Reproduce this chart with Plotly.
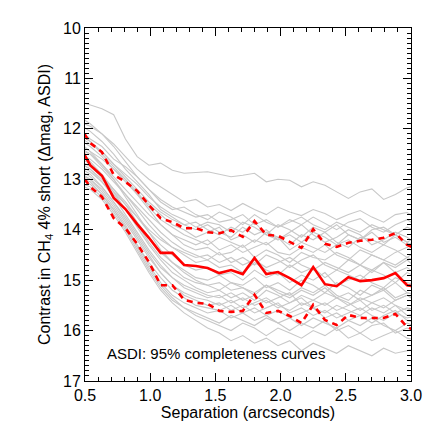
import plotly.graph_objects as go

sep = [0.45, 0.54, 0.63, 0.72, 0.81, 0.90, 0.99, 1.08, 1.17, 1.26,
       1.35, 1.44, 1.53, 1.62, 1.71, 1.80, 1.89, 1.98, 2.07, 2.16,
       2.25, 2.34, 2.43, 2.52, 2.61, 2.70, 2.79, 2.88, 2.97, 3.06]

median = [12.30, 12.72, 12.93, 13.37, 13.59, 13.89, 14.16, 14.46, 14.46, 14.70,
          14.72, 14.76, 14.86, 14.80, 14.88, 14.56, 14.88, 14.84, 14.96, 15.10,
          14.74, 15.08, 15.12, 14.94, 15.02, 15.00, 14.96, 14.86, 15.10, 15.14]
upper = [11.92, 12.28, 12.46, 12.91, 13.05, 13.23, 13.51, 13.77, 13.85, 13.97,
         13.97, 14.05, 14.07, 14.01, 14.14, 13.83, 14.10, 14.12, 14.24, 14.36,
         13.99, 14.28, 14.34, 14.26, 14.22, 14.20, 14.16, 14.07, 14.30, 14.40]
lower = [12.82, 13.15, 13.35, 13.77, 13.97, 14.28, 14.64, 15.10, 15.10, 15.39,
         15.45, 15.47, 15.61, 15.63, 15.61, 15.29, 15.65, 15.61, 15.71, 15.85,
         15.49, 15.79, 15.89, 15.69, 15.75, 15.75, 15.75, 15.67, 15.93, 16.03]

g01 = [11.45, 11.52, 11.60, 11.72, 12.20, 12.55, 12.72, 12.68, 12.82, 12.88, 12.86, 12.85, 12.90, 12.95, 12.92, 12.88, 13.05, 13.00, 13.02, 13.15, 13.05, 13.12, 13.25, 13.38, 13.25, 13.19, 13.40, 13.30, 13.17, 13.10]
g02 = [11.85, 11.95, 12.10, 12.30, 12.55, 12.80, 13.00, 13.15, 13.30, 13.45, 13.40, 13.55, 13.50, 13.62, 13.48, 13.60, 13.70, 13.55, 13.65, 13.72, 13.60, 13.68, 13.80, 13.70, 13.62, 13.75, 13.85, 13.70, 13.66, 13.80]
g03 = [12.00, 12.20, 12.35, 12.60, 12.75, 12.95, 13.20, 13.45, 13.60, 13.55, 13.70, 13.80, 13.65, 13.75, 13.90, 13.70, 13.85, 13.95, 13.80, 13.90, 13.75, 13.88, 14.00, 13.85, 13.78, 13.95, 14.05, 13.90, 13.80, 13.95]
g04 = [12.15, 12.30, 12.45, 12.70, 12.90, 13.10, 13.35, 13.55, 13.70, 13.80, 13.95, 13.85, 13.90, 14.05, 13.85, 13.95, 14.10, 13.90, 14.00, 14.15, 13.95, 14.05, 13.90, 14.10, 14.20, 14.00, 13.95, 14.10, 14.25, 14.10]
g05 = [11.90, 12.05, 12.25, 12.50, 12.80, 13.05, 13.30, 13.60, 13.75, 13.90, 13.85, 14.00, 14.10, 13.95, 14.05, 13.85, 14.10, 14.20, 14.05, 13.90, 14.10, 14.25, 14.15, 14.00, 14.10, 14.30, 14.20, 14.05, 14.15, 14.30]
g06 = [12.30, 12.45, 12.60, 12.80, 13.05, 13.30, 13.50, 13.70, 13.90, 14.00, 14.15, 14.05, 13.95, 14.20, 14.10, 14.25, 14.05, 14.15, 14.30, 14.10, 14.20, 14.05, 14.25, 14.35, 14.15, 14.20, 14.30, 14.10, 14.25, 14.40]
g07 = [12.20, 12.35, 12.55, 12.80, 13.00, 13.25, 13.55, 13.80, 13.95, 14.10, 14.20, 14.30, 14.15, 14.25, 14.35, 14.20, 14.30, 14.15, 14.40, 14.25, 14.35, 14.45, 14.30, 14.20, 14.35, 14.45, 14.30, 14.40, 14.55, 14.40]
g08 = [12.40, 12.50, 12.70, 12.95, 13.20, 13.45, 13.70, 13.90, 14.10, 14.20, 14.30, 14.20, 14.40, 14.30, 14.45, 14.35, 14.25, 14.45, 14.50, 14.35, 14.45, 14.30, 14.50, 14.60, 14.40, 14.50, 14.60, 14.45, 14.35, 14.50]
g09 = [12.05, 12.25, 12.50, 12.75, 13.00, 13.30, 13.60, 13.90, 14.10, 14.30, 14.40, 14.35, 14.50, 14.45, 14.30, 14.55, 14.40, 14.50, 14.65, 14.45, 14.55, 14.60, 14.45, 14.55, 14.70, 14.50, 14.60, 14.70, 14.55, 14.65]
g10 = [12.50, 12.60, 12.80, 13.05, 13.30, 13.55, 13.80, 14.05, 14.25, 14.40, 14.50, 14.60, 14.45, 14.65, 14.55, 14.70, 14.50, 14.60, 14.75, 14.60, 14.50, 14.70, 14.80, 14.60, 14.70, 14.85, 14.65, 14.75, 14.60, 14.80]
g11 = [12.35, 12.50, 12.75, 13.00, 13.30, 13.60, 13.90, 14.15, 14.35, 14.50, 14.65, 14.60, 14.75, 14.70, 14.85, 14.65, 14.80, 14.90, 14.70, 14.85, 14.75, 14.95, 14.80, 14.90, 15.00, 14.80, 14.90, 15.05, 14.85, 14.95]
g12 = [12.60, 12.75, 12.95, 13.20, 13.45, 13.75, 14.05, 14.30, 14.50, 14.70, 14.80, 14.75, 14.90, 14.85, 15.00, 14.80, 14.95, 14.85, 15.05, 14.90, 15.00, 14.85, 15.10, 15.00, 14.90, 15.05, 15.15, 14.95, 15.05, 15.10]
g13 = [12.45, 12.65, 12.90, 13.20, 13.50, 13.85, 14.15, 14.45, 14.65, 14.80, 14.95, 15.00, 14.90, 15.05, 15.10, 14.95, 15.15, 15.05, 15.20, 15.00, 15.10, 15.25, 15.05, 15.15, 15.30, 15.10, 15.20, 15.05, 15.25, 15.30]
g14 = [12.70, 12.85, 13.05, 13.30, 13.60, 13.90, 14.25, 14.55, 14.75, 14.95, 15.05, 15.10, 15.20, 15.05, 15.15, 15.25, 15.10, 15.20, 15.30, 15.15, 15.25, 15.10, 15.30, 15.40, 15.20, 15.30, 15.15, 15.35, 15.25, 15.30]
g15 = [12.55, 12.70, 12.95, 13.25, 13.60, 13.95, 14.30, 14.60, 14.85, 15.00, 15.15, 15.25, 15.20, 15.35, 15.25, 15.40, 15.20, 15.30, 15.45, 15.30, 15.40, 15.25, 15.35, 15.50, 15.35, 15.45, 15.55, 15.40, 15.30, 15.45]
g16 = [12.80, 12.95, 13.15, 13.45, 13.75, 14.10, 14.45, 14.75, 14.95, 15.10, 15.20, 15.30, 15.35, 15.25, 15.40, 15.30, 15.45, 15.35, 15.25, 15.50, 15.40, 15.50, 15.35, 15.45, 15.60, 15.45, 15.35, 15.50, 15.60, 15.50]
g17 = [12.65, 12.80, 13.05, 13.35, 13.70, 14.05, 14.40, 14.70, 14.95, 15.15, 15.25, 15.35, 15.30, 15.45, 15.35, 15.50, 15.40, 15.55, 15.45, 15.35, 15.55, 15.45, 15.60, 15.50, 15.40, 15.60, 15.50, 15.65, 15.55, 15.60]
g18 = [12.90, 13.00, 13.20, 13.50, 13.85, 14.20, 14.55, 14.85, 15.10, 15.25, 15.35, 15.40, 15.50, 15.40, 15.55, 15.45, 15.35, 15.50, 15.60, 15.45, 15.55, 15.65, 15.50, 15.60, 15.70, 15.55, 15.65, 15.50, 15.70, 15.65]
g19 = [12.75, 12.90, 13.15, 13.45, 13.80, 14.15, 14.50, 14.85, 15.10, 15.30, 15.40, 15.50, 15.45, 15.60, 15.50, 15.65, 15.55, 15.45, 15.65, 15.55, 15.70, 15.60, 15.75, 15.65, 15.55, 15.70, 15.80, 15.65, 15.75, 15.70]
g20 = [13.00, 13.10, 13.30, 13.60, 13.95, 14.30, 14.65, 14.95, 15.20, 15.35, 15.50, 15.55, 15.60, 15.50, 15.65, 15.55, 15.70, 15.60, 15.75, 15.65, 15.55, 15.75, 15.65, 15.80, 15.70, 15.85, 15.70, 15.60, 15.80, 15.85]
g21 = [12.85, 13.00, 13.25, 13.55, 13.90, 14.30, 14.70, 15.05, 15.30, 15.45, 15.55, 15.65, 15.60, 15.75, 15.65, 15.80, 15.70, 15.85, 15.75, 15.90, 15.75, 15.85, 15.95, 15.80, 15.90, 15.75, 15.90, 16.00, 15.85, 15.95]
g22 = [13.05, 13.15, 13.35, 13.65, 14.00, 14.40, 14.80, 15.15, 15.40, 15.55, 15.65, 15.75, 15.85, 15.70, 15.80, 15.90, 15.75, 15.85, 16.00, 15.85, 15.95, 15.80, 16.00, 15.90, 16.05, 15.90, 15.85, 16.05, 15.95, 16.00]
g23 = [12.95, 13.05, 13.30, 13.60, 13.95, 14.35, 14.75, 15.10, 15.35, 15.55, 15.70, 15.80, 15.90, 16.00, 15.85, 15.95, 16.10, 15.95, 16.05, 16.15, 16.00, 16.10, 15.95, 16.15, 16.05, 16.20, 16.10, 16.00, 16.15, 16.20]
g24 = [13.10, 13.20, 13.40, 13.70, 14.05, 14.45, 14.85, 15.20, 15.45, 15.65, 15.80, 15.95, 16.05, 16.20, 16.10, 16.25, 16.15, 16.30, 16.20, 16.40, 16.25, 16.35, 16.45, 16.30, 16.40, 16.50, 16.35, 16.45, 16.40, 16.35]
g25 = [12.10, 12.25, 12.45, 12.70, 12.95, 13.20, 13.45, 13.65, 13.80, 13.90, 14.00, 13.90, 14.05, 14.15, 13.95, 14.10, 14.00, 14.20, 14.10, 14.25, 14.05, 14.15, 14.30, 14.10, 14.20, 14.05, 14.25, 14.15, 14.30, 14.20]
g26 = [12.25, 12.45, 12.70, 13.00, 13.35, 13.70, 14.05, 14.40, 14.65, 14.85, 15.00, 15.10, 15.05, 15.20, 15.15, 15.30, 15.10, 15.25, 15.35, 15.20, 15.30, 15.15, 15.35, 15.25, 15.40, 15.30, 15.20, 15.40, 15.30, 15.35]
g27 = [11.75, 11.90, 12.10, 12.35, 12.65, 12.95, 13.20, 13.40, 13.55, 13.65, 13.75, 13.70, 13.85, 13.80, 13.70, 13.90, 13.80, 13.95, 13.85, 13.75, 13.90, 14.00, 13.85, 13.95, 14.05, 13.90, 14.00, 14.10, 13.95, 14.05]
g28 = [12.65, 12.80, 13.00, 13.25, 13.50, 13.75, 14.00, 14.20, 14.35, 14.45, 14.55, 14.50, 14.65, 14.55, 14.70, 14.60, 14.75, 14.65, 14.55, 14.70, 14.80, 14.65, 14.75, 14.85, 14.70, 14.80, 14.65, 14.85, 14.75, 14.90]

grey_curves = [g01, g02, g03, g04, g05, g06, g07, g08, g09, g10, g11, g12, g13, g14,
               g15, g16, g17, g18, g19, g20, g21, g22, g23, g24, g25, g26, g27, g28]

x_ticks = [0.5, 1.0, 1.5, 2.0, 2.5, 3.0]
x_ticklabels = ["0.5", "1.0", "1.5", "2.0", "2.5", "3.0"]
y_ticks = [10, 11, 12, 13, 14, 15, 16, 17]
y_ticklabels = ["10", "11", "12", "13", "14", "15", "16", "17"]

FONT = "Liberation Sans, Arial, Helvetica, sans-serif"

fig = go.Figure()
for g in grey_curves:
    fig.add_trace(go.Scatter(x=sep, y=g, mode="lines",
                             line=dict(color="#c8c8c8", width=1.1),
                             hoverinfo="skip", showlegend=False))
for band in (upper, lower):
    fig.add_trace(go.Scatter(x=sep, y=band, mode="lines",
                             line=dict(color="#ff0000", width=2.6, dash="6px,5px"),
                             showlegend=False))
fig.add_trace(go.Scatter(x=sep, y=median, mode="lines",
                         line=dict(color="#ff0000", width=2.6),
                         showlegend=False))

axis_common = dict(
    showgrid=False, zeroline=False, showline=True, linecolor="black", linewidth=1,
    mirror="allticks", ticks="inside", ticklen=8, tickwidth=1, tickcolor="black",
    tickfont=dict(family=FONT, size=16, color="black"), automargin=False,
)

fig.update_xaxes(range=[0.5, 3.0], tickvals=x_ticks, ticktext=x_ticklabels,
                 minor=dict(dtick=0.1, ticks="inside", ticklen=4, tickcolor="black", showgrid=False),
                 title=dict(text="Separation (arcseconds)", font=dict(family=FONT, size=16, color="black"),
                            standoff=0),
                 **axis_common)
fig.update_yaxes(range=[17, 10], tickvals=y_ticks, ticktext=y_ticklabels,
                 minor=dict(dtick=0.1, ticks="inside", ticklen=4, tickcolor="black", showgrid=False),
                 title=dict(text="Contrast in CH<sub>4</sub> 4% short (Δmag, ASDI)",
                            font=dict(family=FONT, size=16, color="black"), standoff=8),
                 **axis_common)

fig.add_annotation(text="ASDI: 95% completeness curves", xref="paper", yref="paper",
                   x=0.06, y=0.077, xanchor="left", yanchor="middle", showarrow=False,
                   font=dict(family=FONT, size=15, color="black"))

fig.update_layout(width=436, height=436, margin=dict(l=77, r=33, t=20, b=63),
                  plot_bgcolor="white", paper_bgcolor="white")

fig.write_html("out.html")
